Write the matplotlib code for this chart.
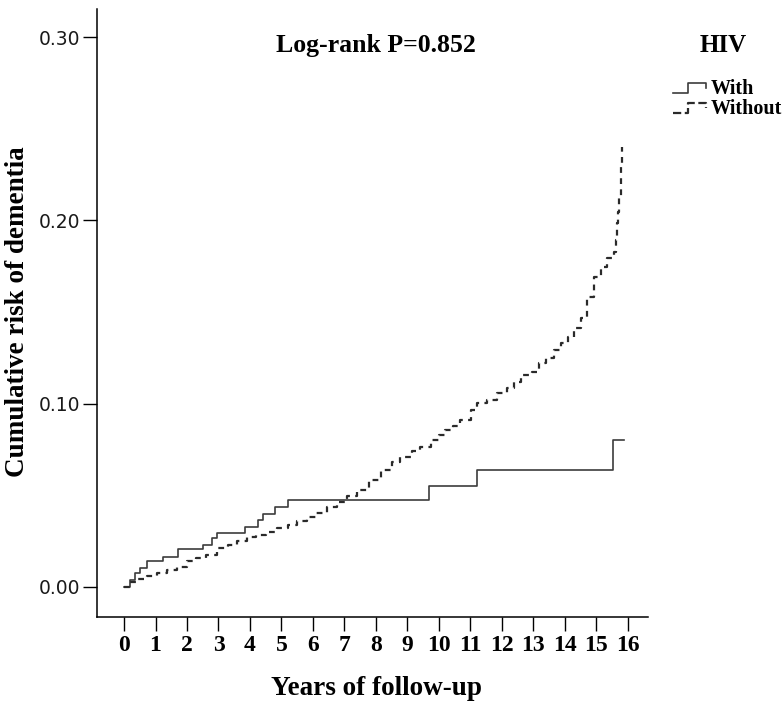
import numpy as np
from matplotlib import pyplot as plt
from matplotlib.lines import Line2D
from matplotlib.legend_handler import HandlerBase

# years of follow-up / cumulative risk
with_x = [0.0, 0.19, 0.35, 0.51, 0.73, 1.24, 1.70, 2.52, 2.79, 2.95, 3.85, 4.27, 4.43, 4.80, 5.21, 9.70, 11.22, 15.55, 15.89]
with_y = [0.0, 0.0037, 0.0075, 0.0102, 0.0138, 0.0160, 0.0204, 0.0230, 0.0265, 0.0293, 0.0328, 0.0364, 0.0397, 0.0437, 0.0475, 0.0551, 0.0640, 0.0801, 0.0801]

without_x = [0.0, 0.19, 0.45, 0.72, 1.04, 1.35, 1.68, 1.99, 2.3, 2.6, 2.95, 3.3, 3.6, 3.9, 4.2, 4.5,
             4.86, 5.2, 5.5, 5.81, 6.1, 6.45, 6.77, 7.1, 7.4, 7.8, 8.15, 8.5, 8.78, 9.15, 9.42, 9.74,
             10.0, 10.21, 10.45, 10.69, 11.01, 11.22, 11.54, 11.86, 12.18, 12.4, 12.6, 12.97, 13.18,
             13.4, 13.66, 13.9, 14.1, 14.3, 14.51, 14.72, 14.93, 15.15, 15.36, 15.57, 15.62, 15.66,
             15.70, 15.74, 15.78, 15.82]
without_y = [0.0, 0.0027, 0.0042, 0.0056, 0.0073, 0.0090, 0.0109, 0.0140, 0.0155, 0.0175, 0.0210, 0.0225,
             0.0250, 0.0273, 0.0285, 0.0300, 0.0319, 0.0335, 0.0360, 0.0382, 0.0405, 0.0435, 0.0464,
             0.0495, 0.0528, 0.0580, 0.0637, 0.0680, 0.0710, 0.0743, 0.0765, 0.0801, 0.0830, 0.0856,
             0.0880, 0.0910, 0.0965, 0.1002, 0.1020, 0.1056, 0.1084, 0.1120, 0.1156, 0.1174, 0.1220,
             0.1250, 0.1293, 0.1330, 0.1365, 0.1411, 0.1466, 0.1584, 0.1693, 0.1748, 0.1794, 0.1830,
             0.1893, 0.1985, 0.2048, 0.2130, 0.2312, 0.2400]

x_ticks = list(range(0, 17))
y_ticks = [0.0, 0.10, 0.20, 0.30]
y_tick_labels = ["0.00", "0.10", "0.20", "0.30"]

serif = "Liberation Serif"
line_col = "#3c3c3c"


class StepHandler(HandlerBase):
    # little step glyph like the SPSS legend
    def create_artists(self, legend, orig_handle, xdescent, ydescent, width, height, fontsize, trans):
        xs = np.array([0.0, 0.42, 0.42, 0.92, 0.92]) * width - xdescent
        ys = np.array([0.1, 0.1, 0.75, 0.75, 0.45]) * height - ydescent
        l = Line2D(xs, ys, color=orig_handle.get_color(), lw=orig_handle.get_linewidth(),
                   linestyle=orig_handle.get_linestyle())
        l.set_transform(trans)
        return [l]


fig = plt.figure(figsize=(7.84, 7.09), dpi=100)
W, H = 784, 709
ax = fig.add_axes([96.5 / W, 1 - 616.7 / H, (648.3 - 96.5) / W, (616.7 - 9.3) / H])

l1, = ax.plot(with_x, with_y, drawstyle="steps-post", color=line_col, lw=1.2, label="With")
l2, = ax.plot(without_x, without_y, drawstyle="steps-post", color="#2a2a2a", lw=1.6,
              linestyle=(0, (2.6, 2.4)), label="Without")

ax.set_xlim(-0.875, 16.66)
ax.set_ylim(-0.01638, 0.3153)

for s in ["top", "right"]:
    ax.spines[s].set_visible(False)
for s in ["left", "bottom"]:
    ax.spines[s].set_linewidth(1.1)

ax.set_xticks(x_ticks)
ax.set_xticklabels([str(t) for t in x_ticks], fontfamily=serif, fontweight="bold", fontsize=17)
ax.set_yticks(y_ticks)
ax.set_yticklabels(y_tick_labels, fontfamily="DejaVu Sans", fontsize=13.5, color="#1a1a1a")
ax.tick_params(axis="x", length=10, width=1.0, pad=3.0)
ax.tick_params(axis="y", length=10, width=1.0, pad=1.5)

ax.set_xlabel("Years of follow-up", fontfamily=serif, fontweight="bold", fontsize=19.5, va="center")
ax.xaxis.set_label_coords(0.507, -0.1174)
ax.set_ylabel("Cumulative risk of dementia", fontfamily=serif, fontweight="bold", fontsize=19.5,
              va="center", ha="center")
ax.yaxis.set_label_coords(-0.1423, 0.5017)

ax.text(0.507, 0.941, "Log-rank P=0.852", transform=ax.transAxes, ha="center", va="center",
        fontfamily=serif, fontweight="bold", fontsize=18.5)

# legend title placed on its own, SPSS leaves a big gap under it
fig.text(723 / W, 1 - 45 / H, "HIV", ha="center", va="center",
         fontfamily=serif, fontweight="bold", fontsize=18)
leg = fig.legend(handles=[l1, l2], labels=["With", "Without"],
                 handler_map={Line2D: StepHandler()},
                 loc="upper left", bbox_to_anchor=(663 / W, 1 - 69 / H),
                 frameon=False, prop={"family": serif, "weight": "bold", "size": 14.5},
                 handlelength=1.8, handletextpad=0.05, labelspacing=0.0, borderpad=0.0)

fig.savefig("out.png", dpi=100)
